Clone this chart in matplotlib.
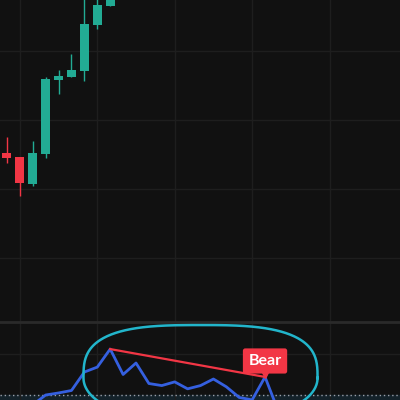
import matplotlib
matplotlib.use("Agg")
import matplotlib.pyplot as plt
import numpy as np

# price candles (index 0..8), arbitrary price units
opens  = [115.2, 114.6, 110.7, 115.1, 125.8, 126.2, 127.1, 133.8, 136.5]
closes = [114.5, 110.9, 115.2, 125.9, 126.4, 127.2, 133.9, 136.7, 145.0]
highs  = [117.5, 114.6, 117.0, 126.2, 127.2, 129.6, 139.0, 138.5, 146.0]
lows   = [113.8, 109.0, 110.4, 114.5, 123.8, 126.2, 125.7, 133.2, 136.5]

# oscillator values, starting at bar 2
osc_start = 2
osc = [67.6, 70.0, 70.5, 71.1, 75.6, 76.8, 81.2, 75.0, 77.8, 72.8,
       72.3, 73.2, 71.5, 72.3, 73.9, 72.0, 69.4, 68.8, 74.4, 66.3]
osc_level = 70
div_from, div_to = 8, 20   # bearish divergence peaks (bar index)
label_text = "Bear"

BG = "#111111"
GRID = "#1e1e1e"
UP = "#22ab94"
DOWN = "#f23645"
BLUE = "#3560e0"
CYAN = "#22b5cb"

fig = plt.figure(figsize=(4, 4), dpi=100, facecolor=BG)
ax1 = fig.add_axes([0, 78/400, 1, 322/400])
ax2 = fig.add_axes([0, 0, 1, 78/400], sharex=ax1)

for ax in (ax1, ax2):
    ax.set_facecolor(BG)
    for s in ax.spines.values():
        s.set_visible(False)
    ax.tick_params(left=False, bottom=False, labelleft=False, labelbottom=False)
    ax.set_xticks([1, 7, 13, 19, 25])
    ax.grid(True, color=GRID, lw=1)
    ax.set_axisbelow(True)

ax1.set_xlim(-0.54, 30.46)
ax1.set_ylim(90.72, 137.4)
ax1.set_yticks([100, 110, 120, 130])

""" Candles """
x = np.arange(len(opens))
for i in x:
    o, c, h, l = opens[i], closes[i], highs[i], lows[i]
    col = UP if c >= o else DOWN
    ax1.vlines(i, l, h, color=col, lw=1, zorder=2)
    ax1.bar(i, max(abs(c - o), 0.3), bottom=min(o, c), width=0.7, color=col, zorder=3)

""" Oscillator pane """
ax2.set_ylim(68.78, 87.8)
ax2.set_yticks([80])
ax2.axhspan(60, osc_level, color="#14222a", zorder=0)
ax2.axhline(osc_level, color="#9a9ea8", lw=1, ls=(0, (1, 2)), zorder=1)
ax2.spines["top"].set_visible(True)
ax2.spines["top"].set_color("#2a2a2a")
ax2.spines["top"].set_linewidth(2)

ox = np.arange(osc_start, osc_start + len(osc))
ax2.plot(ox, osc, color=BLUE, lw=2, zorder=3)

# divergence line
y_from = osc[div_from - osc_start]
y_to = osc[div_to - osc_start]
ax2.plot([div_from, div_to], [y_from, y_to], color=DOWN, lw=1.6, zorder=4)

# hand drawn looking loop around the divergence
cx, cy = 15.0, 74.15
a, b_top, b_bot = 9.07, 12.9, 9.8
t = np.linspace(0, 2*np.pi, 400)
ct, st = np.cos(t), np.sin(t)
ex = cx + a*np.sign(ct)*np.abs(ct)**(2/3)
ey = np.where(st >= 0, cy + b_top*np.sign(st)*np.abs(st)**(2/3), cy + b_bot*st)
ax2.plot(ex, ey, color=CYAN, lw=1.8, zorder=5)

# label
ax2.plot(div_to, y_to + 0.55, marker="v", ms=5, color=DOWN, zorder=6)
ax2.annotate(label_text, (div_to, y_to), xytext=(0, 11.5), textcoords="offset points",
             ha="center", va="center", color="white", fontsize=11.5, fontweight="bold",
             family=["Lato", "DejaVu Sans"],
             bbox=dict(boxstyle="round,pad=0.35,rounding_size=0.15", fc=DOWN, ec="none"),
             zorder=7)

plt.savefig("out.png", dpi=100, facecolor=BG)
